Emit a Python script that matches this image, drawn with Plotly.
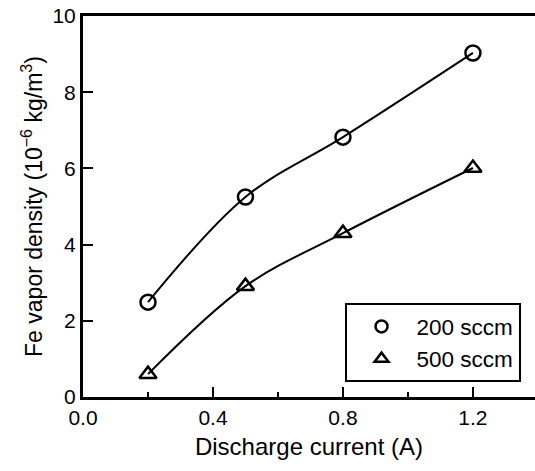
import plotly.graph_objects as go

current = [0.2, 0.5, 0.8, 1.2]
density_200 = [2.49, 5.25, 6.82, 9.03]
density_500 = [0.60, 2.91, 4.30, 6.01]
series_names = ["200 sccm", "500 sccm"]
symbols = ["circle-open", "triangle-up-open"]

FONT = "Liberation Sans, Arial, sans-serif"

fig = go.Figure()
for ys, sym in zip([density_200, density_500], symbols):
    fig.add_trace(go.Scatter(
        x=current, y=ys, mode="lines+markers", showlegend=False,
        line=dict(color="black", width=2, shape="spline", smoothing=1),
        marker=dict(symbol=sym, size=15, color="black", line=dict(width=2.5)),
    ))
for name, sym in zip(series_names, symbols):
    fig.add_trace(go.Scatter(
        x=[None], y=[None], name=name, mode="markers",
        marker=dict(symbol=sym, size=12, color="black", line=dict(width=2.5)),
    ))

fig.update_layout(
    width=535, height=471,
    margin=dict(l=83, r=0, t=16, b=74),
    paper_bgcolor="white", plot_bgcolor="white",
    font=dict(family=FONT, size=20, color="black"),
    showlegend=True,
    legend=dict(
        x=0.968, y=0.246, xanchor="right", yanchor="top",
        bordercolor="black", borderwidth=2, bgcolor="white",
        font=dict(size=22.5), itemwidth=60,
    ),
    xaxis=dict(
        range=[0, 1.391], tickvals=[0, 0.4, 0.8, 1.2],
        ticktext=["0.0", "0.4", "0.8", "1.2"],
        ticks="inside", ticklen=10, tickwidth=2, tickcolor="black",
        minor=dict(tickvals=[0.2, 0.6, 1.0], ticks="inside", ticklen=5, tickwidth=2, tickcolor="black"),
        showline=True, linecolor="black", linewidth=3, mirror=True,
        showgrid=False, zeroline=False, automargin=False,
        tickfont=dict(size=21),
        title=dict(text="Discharge current (A)", font=dict(size=24), standoff=10),
    ),
    yaxis=dict(
        range=[0, 10], tickvals=[0, 2, 4, 6, 8, 10],
        ticks="inside", ticklen=10, tickwidth=2, tickcolor="black",
        showline=True, linecolor="black", linewidth=3, mirror=False,
        showgrid=False, zeroline=False, automargin=False,
        tickfont=dict(size=21),
        title=dict(text="Fe vapor density (10<sup>\u22126</sup> kg/m<sup>3</sup>)", font=dict(size=23), standoff=4),
    ),
)

fig.write_html("out.html", config={"displayModeBar": False},
               post_script="document.body.style.margin='0';document.body.style.overflow='hidden';")
